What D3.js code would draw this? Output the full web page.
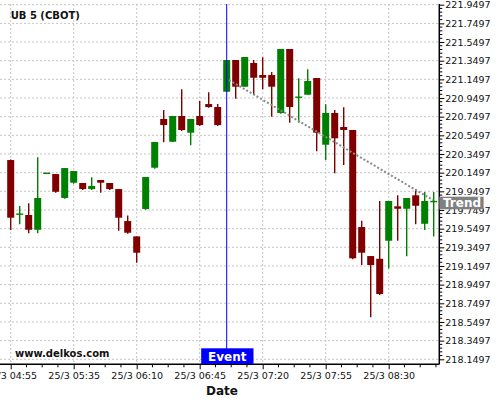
<!DOCTYPE html>
<html>
<head>
<meta charset="utf-8">
<script src="https://cdn.jsdelivr.net/npm/d3@7"></script>
<style>
  html, body { margin: 0; padding: 0; background: #fff; }
  svg { display: block; font-family: "DejaVu Sans", sans-serif; }
</style>
</head>
<body>
<svg id="chart" width="500" height="400"></svg>
<script>
// ---- data ----
const title = "UB 5 (CBOT)";
const xTickIndex = [0, 7, 14, 21, 28, 35, 42];
const xTickLabels = ["25/3 04:55", "25/3 05:35", "25/3 06:10", "25/3 06:45", "25/3 07:20", "25/3 07:55", "25/3 08:30"];
const yTickLabels = ["218.1497","218.3497","218.5497","218.7497","218.9497","219.1497","219.3497","219.5497","219.7497","219.9497",
                     "220.1497","220.3497","220.5497","220.7497","220.9497","221.1497","221.3497","221.5497","221.7497","221.9497"];
const open  = [220.285,219.700,219.696,219.538,220.140,220.135,219.878,220.042,220.039,219.974,
               220.071,220.039,219.974,219.631,219.467,219.760,220.203,220.725,220.481,220.757,
               220.578,220.757,220.885,220.853,221.017,221.357,221.071,221.325,221.196,221.196,
               220.789,221.475,220.955,220.985,221.164,220.449,220.789,220.639,220.607,219.567,
               219.256,219.227,219.420,219.789,219.763,219.907,219.602,219.836];
const high  = [220.290,219.792,219.821,220.314,220.145,220.135,220.199,220.167,220.039,220.100,
               220.071,220.039,219.974,219.692,219.467,220.103,220.478,220.821,220.757,221.043,
               220.725,220.918,221.011,220.885,221.357,221.357,221.389,221.357,221.386,221.228,
               221.475,221.475,221.161,221.257,221.164,220.882,220.821,220.850,220.607,219.635,
               219.256,219.846,219.846,219.907,219.878,219.971,219.942,219.942];
const low   = [219.535,219.596,219.500,219.500,220.140,219.935,219.870,220.031,219.964,219.964,
               219.935,219.964,219.527,219.495,219.184,219.752,220.192,220.475,220.478,220.596,
               220.443,220.650,220.846,220.650,221.017,220.942,221.071,220.982,221.043,220.749,
               220.781,220.685,220.685,220.985,220.378,220.285,220.143,220.232,219.221,219.160,
               218.599,218.838,219.124,219.420,219.253,219.596,219.535,219.467];
const close = [219.667,219.705,219.538,219.878,220.143,219.945,220.199,220.167,219.974,220.007,
               220.042,219.974,219.667,219.506,219.292,220.103,220.478,220.660,220.757,220.607,
               220.725,220.660,220.853,220.660,221.357,221.071,221.389,221.167,221.167,221.071,
               221.475,220.853,220.958,221.132,220.578,220.789,220.518,220.607,219.232,219.292,
               219.160,218.849,219.846,219.763,219.878,219.795,219.846,219.840];
const eventIndex = 24;
const trendStart = [24.26, 221.143];
const trendEnd   = [46.92, 219.856];

// ---- layout ----
const svg = d3.select("#chart");
const plotL = 0, plotR = 439.3, plotT = 4, plotB = 364.3;
const upColor = "#008000", downColor = "#800000";

const x = d3.scaleLinear().domain([0, 47]).range([10.7, 433.7]);
const y = d3.scaleLinear().domain([218.1497, 221.9497]).range([359.3, 4.7]);
const yTicks = yTickLabels.map(Number);

svg.append("rect").attr("width", 500).attr("height", 400).attr("fill", "#fff");

// grid
const grid = svg.append("g").attr("stroke", "#c4c4c4").attr("stroke-width", 1).attr("stroke-dasharray", "2,2");
grid.selectAll("line.h").data(yTicks).join("line").attr("class", "h")
  .attr("x1", plotL).attr("x2", plotR).attr("y1", d => y(d)).attr("y2", d => y(d));
grid.selectAll("line.v").data(xTickIndex).join("line").attr("class", "v")
  .attr("x1", d => x(d)).attr("x2", d => x(d)).attr("y1", plotT).attr("y2", plotB);

// candles
const data = open.map((o, i) => ({i, o, h: high[i], l: low[i], c: close[i]}));
const cg = svg.append("g");
const bw = 7;
cg.selectAll("line.wick").data(data).join("line").attr("class", "wick")
  .attr("x1", d => x(d.i)).attr("x2", d => x(d.i))
  .attr("y1", d => y(d.h)).attr("y2", d => y(d.l))
  .attr("stroke", d => d.c >= d.o ? upColor : downColor).attr("stroke-width", 1.4);
cg.selectAll("rect.body").data(data).join("rect").attr("class", "body")
  .attr("x", d => x(d.i) - bw / 2).attr("width", bw)
  .attr("y", d => Math.min(y(d.o), y(d.c)) - (Math.abs(y(d.o) - y(d.c)) < 1.4 ? 0.7 : 0))
  .attr("height", d => Math.max(1.4, Math.abs(y(d.o) - y(d.c))))
  .attr("fill", d => d.c >= d.o ? upColor : downColor);

// trend line
svg.append("line")
  .attr("x1", x(trendStart[0])).attr("y1", y(trendStart[1]))
  .attr("x2", x(trendEnd[0])).attr("y2", y(trendEnd[1]))
  .attr("stroke", "#888").attr("stroke-width", 2).attr("stroke-dasharray", "2,2");

// event line
svg.append("line")
  .attr("x1", x(eventIndex)).attr("x2", x(eventIndex))
  .attr("y1", plotT).attr("y2", plotB)
  .attr("stroke", "#0000ff").attr("stroke-width", 1);

// axes
const yAxis = d3.axisRight(y).tickValues(yTicks).tickFormat((d, i) => yTickLabels[i]).tickSize(5).tickPadding(1);
const ya = svg.append("g").attr("transform", `translate(${plotR},0)`).call(yAxis);
ya.select(".domain").remove();
ya.selectAll("line").attr("stroke", "#000");
ya.selectAll("text").attr("font-size", "9.5px").attr("font-family", "DejaVu Sans").attr("fill", "#111");

const yMinor = [];
yTicks.forEach(t => { for (let k = 1; k < 5; k++) { const v = t + 0.04 * k; if (y(v) > plotT) yMinor.push(v); } });
svg.append("g").selectAll("line").data(yMinor).join("line")
  .attr("x1", plotR).attr("x2", plotR + 3).attr("y1", d => y(d)).attr("y2", d => y(d))
  .attr("stroke", "#000").attr("stroke-width", 1);

const xAxis = d3.axisBottom(x).tickValues(xTickIndex).tickFormat((d, i) => xTickLabels[i]).tickSize(5).tickPadding(3);
const xa = svg.append("g").attr("transform", `translate(0,${plotB})`).call(xAxis);
xa.select(".domain").remove();
xa.selectAll("line").attr("stroke", "#000");
xa.selectAll("text").attr("font-size", "9.5px").attr("font-family", "DejaVu Sans").attr("fill", "#111");

const xMinor = [];
xTickIndex.forEach(t => { for (let k = -3; k < 4; k++) { if (k === 0) continue; const v = t + 1.75 * k; if (x(v) > plotL && x(v) < plotR && (k > 0 || t === 0)) xMinor.push(v); } });
svg.append("g").selectAll("line").data(xMinor).join("line")
  .attr("x1", d => x(d)).attr("x2", d => x(d)).attr("y1", plotB).attr("y2", plotB + 3)
  .attr("stroke", "#000").attr("stroke-width", 1);

svg.append("line").attr("x1", plotL).attr("x2", plotR).attr("y1", plotB).attr("y2", plotB)
  .attr("stroke", "#000").attr("stroke-width", 1.5);
svg.append("line").attr("x1", plotR).attr("x2", plotR).attr("y1", plotT).attr("y2", plotB)
  .attr("stroke", "#000").attr("stroke-width", 1.5);

// event label
const ex = x(eventIndex);
svg.append("rect").attr("x", ex - 25.5).attr("y", 348.3).attr("width", 52.3).attr("height", 15.7).attr("fill", "#0000ff");
svg.append("text").attr("x", ex + 0.5).attr("y", 360.7).attr("text-anchor", "middle")
  .attr("font-size", "12px").attr("font-weight", "bold").attr("fill", "#fff").text("Event");

// trend label
svg.append("rect").attr("x", plotR).attr("y", 196.7).attr("width", 44.3).attr("height", 12.6).attr("fill", "#808080");
svg.append("text").attr("x", 443).attr("y", 207.3)
  .attr("font-size", "12px").attr("font-weight", "bold").attr("fill", "#fff").text("Trend");

// titles
svg.append("text").attr("x", 10.7).attr("y", 19).attr("font-size", "10px").attr("font-weight", "bold").attr("fill", "#111").text(title);
svg.append("text").attr("x", 15).attr("y", 357.3).attr("font-size", "10px").attr("font-weight", "bold").attr("fill", "#111").text("www.delkos.com");
svg.append("text").attr("x", 222).attr("y", 394.5).attr("text-anchor", "middle").attr("font-size", "12px").attr("font-weight", "bold").attr("fill", "#111").text("Date");
</script>
</body>
</html>
